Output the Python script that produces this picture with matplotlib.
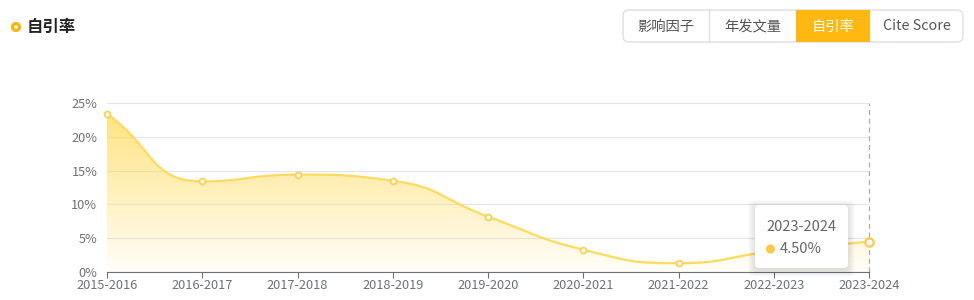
import numpy as np
import matplotlib
matplotlib.use("Agg")
import matplotlib.pyplot as plt
from matplotlib.patches import FancyBboxPatch, Rectangle, Circle, Polygon
from matplotlib.path import Path

plt.rcParams['font.family'] = ['Noto Sans CJK SC', 'DejaVu Sans']

# data
years = ['2015-2016', '2016-2017', '2017-2018', '2018-2019', '2019-2020',
         '2020-2021', '2021-2022', '2022-2023', '2023-2024']
rates = [23.4, 13.4, 14.4, 13.5, 8.2, 3.3, 1.3, 3.1, 4.5]
y_ticks = [0, 5, 10, 15, 20, 25]
tabs = ['影响因子', '年发文量', '自引率', 'Cite Score']
active_tab = '自引率'
title = '自引率'

W, H = 974, 300
fig = plt.figure(figsize=(W / 100, H / 100), dpi=100)

# plot area in pixels
x0, x1, y0, y1 = 107, 869, 103, 272
ax = fig.add_axes([x0 / W, 1 - y1 / H, (x1 - x0) / W, (y1 - y0) / H])
n = len(years)
ax.set_xlim(0, n - 1)
ax.set_ylim(0, 25)


def smooth_cps(pts, smooth=0.5):
    # control points like echarts' smooth line (clamped to neighbours)
    out = []
    m = len(pts)
    for i in range(m):
        x, y = pts[i]
        px, py = pts[max(i - 1, 0)]
        nx, ny = pts[min(i + 1, m - 1)]
        vx, vy = nx - px, ny - py
        l0 = np.hypot(x - px, y - py)
        l1 = np.hypot(nx - x, ny - y)
        if l0 == 0:
            out.append(((x, y), (x + vx * smooth, y + vy * smooth)))
            continue
        if l1 == 0:
            out.append(((x - vx * smooth, y - vy * smooth), (x, y)))
            continue
        r = l1 / (l0 + l1)
        c1x, c1y = x + vx * smooth * r, y + vy * smooth * r
        c1x = max(min(c1x, max(nx, x)), min(nx, x))
        c1y = max(min(c1y, max(ny, y)), min(ny, y))
        vx, vy = c1x - x, c1y - y
        c0x, c0y = x - vx * l0 / l1, y - vy * l0 / l1
        c0x = max(min(c0x, max(px, x)), min(px, x))
        c0y = max(min(c0y, max(py, y)), min(py, y))
        vx, vy = x - c0x, y - c0y
        c1x, c1y = x + vx * l1 / l0, y + vy * l1 / l0
        out.append(((c0x, c0y), (c1x, c1y)))
    return out


sx = (x1 - x0) / (n - 1)
sy = (y1 - y0) / 25.0
pts = [(i * sx, v * sy) for i, v in enumerate(rates)]
cps = smooth_cps(pts)
verts, codes = [pts[0]], [Path.MOVETO]
for i in range(n - 1):
    verts += [cps[i][1], cps[i + 1][0], pts[i + 1]]
    codes += [Path.CURVE4] * 3
poly = Path(verts, codes).to_polygons(closed_only=False)[0]
cx = poly[:, 0] / sx
cy = poly[:, 1] / sy

# gradient fill under the curve
fill_poly = np.vstack([[cx[0], 0], np.column_stack([cx, cy]), [cx[-1], 0]])
clip = Polygon(fill_poly, closed=True, facecolor='none', edgecolor='none')
ax.add_patch(clip)
grad = np.zeros((256, 2, 4))
t = np.linspace(0, 1, 256)[:, None]
grad[..., 0] = 1.0
grad[..., 1] = 0.86
grad[..., 2] = 0.36
grad[..., 3] = 0.04 + 0.74 * t
img = ax.imshow(grad, extent=[0, n - 1, 0, max(rates)], origin='lower',
                aspect='auto', zorder=1)
img.set_clip_path(clip)

ax.plot(cx, cy, color='#FFDB5C', lw=1.6, zorder=3, solid_capstyle='round')
ax.plot(range(n - 1), rates[:-1], 'o', ms=4.2, mfc='white', mec='#FFCF52',
        mew=1.3, zorder=4, clip_on=False)
ax.plot([n - 1], [rates[-1]], 'o', ms=6, mfc='white', mec='#FFC845',
        mew=1.6, zorder=5, clip_on=False)

# axis pointer
ax.axvline(n - 1, color='#AAAAAA', lw=0.9, ls=(0, (4, 3)), zorder=2, clip_on=False)

ax.set_yticks(y_ticks)
ax.set_yticklabels([f'{v}%' for v in y_ticks])
ax.set_xticks(range(n))
ax.set_xticklabels(years)
ax.grid(axis='y', color='#E0E6F1', lw=0.8)
ax.set_axisbelow(True)
for s in ['top', 'right', 'left']:
    ax.spines[s].set_visible(False)
ax.spines['bottom'].set_color('#6E7079')
ax.tick_params(axis='y', length=0, labelsize=9.2, labelcolor='#6E7079', pad=7)
ax.tick_params(axis='x', length=4, color='#6E7079', labelsize=9.2,
               labelcolor='#6E7079', pad=1)
ax.set_facecolor('none')

# overlay in pixel coordinates for title, tabs and tooltip
ov = fig.add_axes([0, 0, 1, 1], zorder=10)
ov.set_xlim(0, W)
ov.set_ylim(H, 0)
ov.axis('off')
ov.patch.set_alpha(0)

ov.add_patch(Circle((16, 27), 3.5, facecolor='white', edgecolor='#FFB300', lw=2.2))
ov.text(27, 26.5, title, fontsize=11.8, fontweight='bold', color='#222222',
        va='center', ha='left')

tab_edges = [623, 709, 796, 870, 963]
ov.add_patch(FancyBboxPatch((623, 10), 340, 32, boxstyle='round,pad=0,rounding_size=6',
                            facecolor='white', edgecolor='#DCDFE6', lw=1))
for i, name in enumerate(tabs):
    l, r = tab_edges[i], tab_edges[i + 1]
    if name == active_tab:
        ov.add_patch(Rectangle((l, 10), r - l, 32, facecolor='#FFB80F', edgecolor='none'))
        col = 'white'
    else:
        col = '#555555'
    if 0 < i and tabs[i - 1] != active_tab and name != active_tab:
        ov.plot([l, l], [10, 42], color='#DCDFE6', lw=1)
    ov.text((l + r) / 2, 26.5, name, fontsize=10.3, color=col, ha='center', va='center')

# tooltip
for k in range(8):
    ov.add_patch(FancyBboxPatch((755 - k, 205 - k + 2), 93 + 2 * k, 63 + 2 * k,
                                boxstyle='round,pad=0,rounding_size=5',
                                facecolor='black', edgecolor='none', alpha=0.016))
ov.add_patch(FancyBboxPatch((755, 205), 93, 63, boxstyle='round,pad=0,rounding_size=4',
                            facecolor='white', edgecolor='none'))
ov.text(766, 227, years[-1], fontsize=10.5, color='#666666', va='center', ha='left')
ov.add_patch(Circle((770.5, 249), 4.6, facecolor='#FFC845', edgecolor='none'))
ov.text(780, 249, f'{rates[-1]:.2f}%', fontsize=10.5, color='#666666', va='center', ha='left')

fig.savefig('out.png', dpi=100)
